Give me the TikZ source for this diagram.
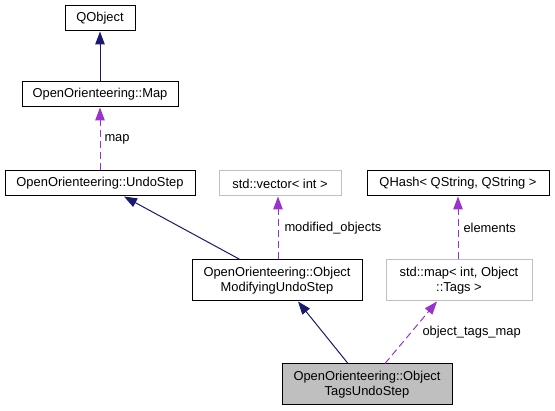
\documentclass[tikz,border=0pt]{standalone}
\usepackage{fontspec}
\setmainfont{Liberation Sans}
\usetikzlibrary{arrows.meta}
\definecolor{inhblue}{HTML}{191970}
\definecolor{usepurple}{HTML}{9A32CD}
\definecolor{boxgrey}{HTML}{BFBFBF}
\tikzset{
  cls/.style={draw=black, line width=1pt, fill=white, inner sep=0pt, align=center,
    font=\fontsize{12.9}{14.4}\selectfont, minimum height=25pt},
  ext/.style={cls, draw=boxgrey},
  cur/.style={cls, fill=boxgrey},
  inh/.style={draw=inhblue, line width=1pt, -{Triangle[length=13pt,width=9.5pt]}, color=inhblue},
  use/.style={draw=usepurple, line width=1pt, dash pattern=on 7pt off 4pt, -{Triangle[length=13pt,width=9.5pt]}, color=usepurple},
  lbl/.style={text=black, inner sep=0pt, anchor=west, font=\fontsize{12.9}{14.4}\selectfont}
}
\begin{document}
\begin{tikzpicture}[x=1pt,y=-1pt]
\useasboundingbox (0,0) rectangle (555,411);
\node[cls, minimum width=70pt] (qobject) at (100,18.5) {QObject};
\node[cls, minimum width=156pt] (map) at (100,94.5) {OpenOrienteering::Map};
\node[cls, minimum width=190pt] (undostep) at (100,183.5) {OpenOrienteering::UndoStep};
\node[ext, minimum width=122pt] (vector) at (280,183.5) {std::vector< int >};
\node[cls, minimum width=182pt] (qhash) at (458,183.5) {QHash< QString, QString >};
\node[cls, minimum width=170pt, minimum height=41pt] (objmod) at (277,280.5) {OpenOrienteering::Object\\ModifyingUndoStep};
\node[ext, minimum width=146pt, minimum height=41pt] (stdmap) at (459,280.5) {std::map< int, Object\\::Tags >};
\node[cur, minimum width=170pt, minimum height=41pt] (objtags) at (367,384.5) {OpenOrienteering::Object\\TagsUndoStep};

\draw[inh] (map.north) -- (qobject.south);
\draw[use] (undostep.north) -- (map.south) node[lbl, pos=0.5, xshift=4pt] {map};
\draw[inh] ([xshift=-37pt]objmod.north) -- ([xshift=24pt]undostep.south);
\draw[use] ([xshift=1pt]objmod.north) -- ([xshift=-2pt]vector.south) node[lbl, pos=0.5, xshift=6pt] {modified\_objects};
\draw[use] ([xshift=-1pt]stdmap.north) -- (qhash.south) node[lbl, pos=0.5, xshift=5pt] {elements};
\draw[inh] ([xshift=-19pt]objtags.north) -- ([xshift=21pt]objmod.south);
\draw[use] ([xshift=18pt]objtags.north) -- ([xshift=-22pt]stdmap.south) node[lbl, pos=0.5, xshift=11pt] {object\_tags\_map};
\end{tikzpicture}
\end{document}
